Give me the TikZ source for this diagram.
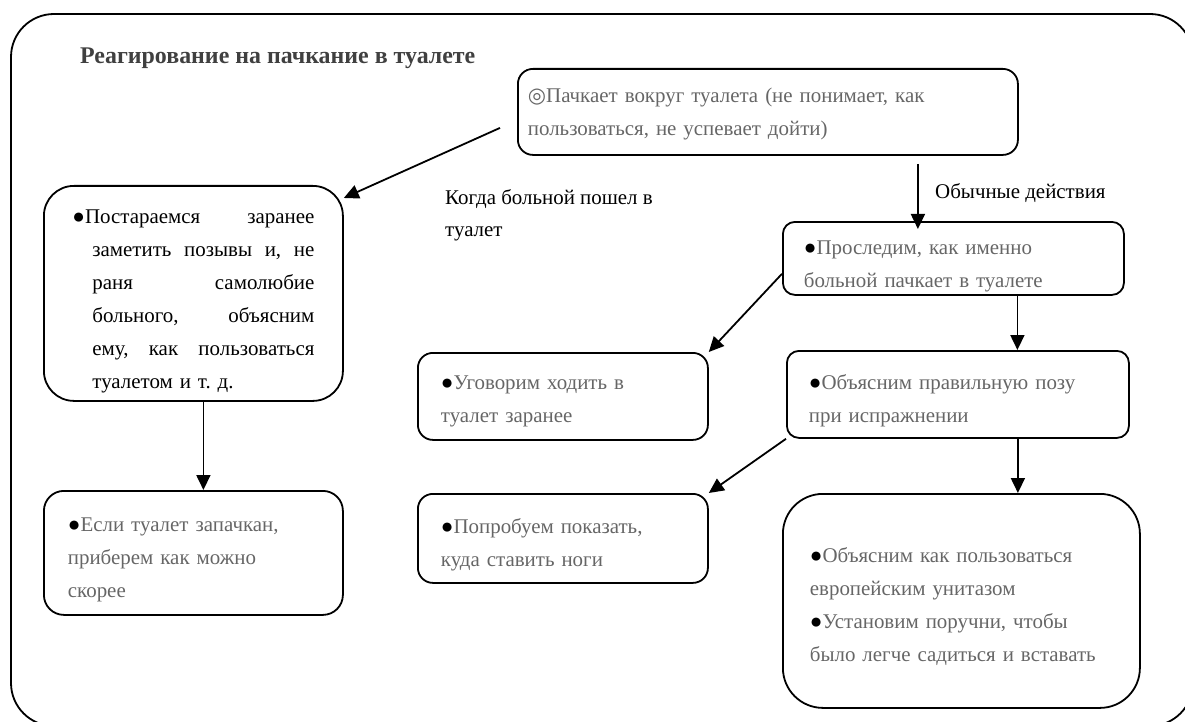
\documentclass[tikz,border=0pt]{standalone}
\usepackage{fontspec}
\setmainfont{Liberation Serif}
\newfontfamily\symfont{DejaVu Sans}
\usetikzlibrary{arrows.meta}
\tikzset{>={Triangle[length=15bp,width=14bp]}}
\definecolor{textgray}{HTML}{666666}
\definecolor{titlegray}{HTML}{404040}
\newcommand{\blt}{{\color{black}●}}

\begin{document}
\begin{tikzpicture}[x=1bp,y=-1bp,
  box/.style={draw,line width=1.8bp,anchor=north west,align=left,inner ysep=0pt,
    font=\fontsize{21}{33}\selectfont,text=textgray},
  lower/.style={execute at begin node={\rule{0pt}{#1}}},
  conn/.style={->,line width=1.8bp},
  lbl/.style={inner sep=0pt,align=left,font=\fontsize{21}{32}\selectfont}]
\useasboundingbox (0,0) rectangle (1185,722);
\draw[line width=1.8bp,rounded corners=43bp] (11,14) rectangle (1193,726);
\node[anchor=west,inner sep=0pt,text=titlegray,font=\fontsize{24}{28}\selectfont\bfseries] (title) at (80,58) {Реагирование на пачкание в туалете};

\node[box,lower=19bp,rounded corners=15bp,minimum width=500bp,minimum height=86bp,text width=480bp,inner xsep=10bp] (b1) at (517,68)
  {{\symfont ◎}Пачкает вокруг туалета (не понимает, как\\пользоваться, не успевает дойти)};
\node[box,lower=30bp,text=black,rounded corners=30bp,minimum width=299bp,minimum height=215bp,text width=242bp,inner xsep=28.5bp] (b2) at (43,185)
  {\hbox to 242bp{●Постараемся\hfill заранее}\\
   \hspace*{20bp}\hbox to 222bp{заметить\hfill позывы\hfill и,\hfill не}\\
   \hspace*{20bp}\hbox to 222bp{раня\hfill самолюбие}\\
   \hspace*{20bp}\hbox to 222bp{больного,\hfill объясним}\\
   \hspace*{20bp}\hbox to 222bp{ему,\hfill как\hfill пользоваться}\\
   \hspace*{20bp}туалетом и т.\ д.};
\node[box,lower=30bp,rounded corners=12bp,minimum width=341bp,minimum height=73bp,text width=299bp,inner xsep=21bp] (b3) at (782,221)
  {\blt Проследим, как именно\\больной пачкает в туалете};
\node[box,lower=24bp,rounded corners=15bp,minimum width=290bp,minimum height=87bp,text width=244bp,inner xsep=23bp] (b4) at (417,352)
  {\blt Уговорим ходить в\\туалет заранее};
\node[box,lower=27bp,rounded corners=20bp,minimum width=299bp,minimum height=124bp,text width=251bp,inner xsep=24bp] (b5) at (43,490)
  {\blt Если туалет запачкан,\\приберем как можно\\скорее};
\node[box,lower=27bp,rounded corners=12bp,minimum width=342bp,minimum height=87bp,text width=298bp,inner xsep=22bp] (b6) at (786,350)
  {\blt Объясним правильную позу\\при испражнении};
\node[box,lower=28bp,rounded corners=15bp,minimum width=290bp,minimum height=89bp,text width=244bp,inner xsep=23bp] (b7) at (417,493)
  {\blt Попробуем показать,\\куда ставить ноги};
\node[box,lower=26bp,rounded corners=40bp,minimum width=357bp,minimum height=214bp,text width=303bp,inner xsep=27bp] (b8) at (782,493)
  {\blt Объясним как пользоваться\\европейским унитазом\\\blt Установим поручни, чтобы\\было легче садиться и вставать};

\node[lbl,anchor=north west] (when) at (445,189) {Когда больной пошел в\\туалет};
\node[lbl,anchor=west] (usual) at (935,193) {Обычные действия};

\draw[conn] ([shift={(-17,16)}]b1.west) -- ([shift={(0,13)}]b2.north east);
\draw[conn] ([shift={(150,8)}]b1.south) -- ([shift={(150,8)}]b1.south |- b3.north);
\draw[conn] ([shift={(10,0)}]b2.south) -- ([shift={(10,0)}]b2.south |- b5.north);
\draw[conn] ([shift={(0,-22)}]b3.south west) -- (b4.north east);
\draw[conn] ([shift={(64,0)}]b3.south) -- ([shift={(64,0)}]b3.south |- b6.north);
\draw[conn] (b6.south west) -- (b7.north east);
\draw[conn] ([shift={(60,0)}]b6.south) -- ([shift={(60,0)}]b6.south |- b8.north);
\end{tikzpicture}
\end{document}
